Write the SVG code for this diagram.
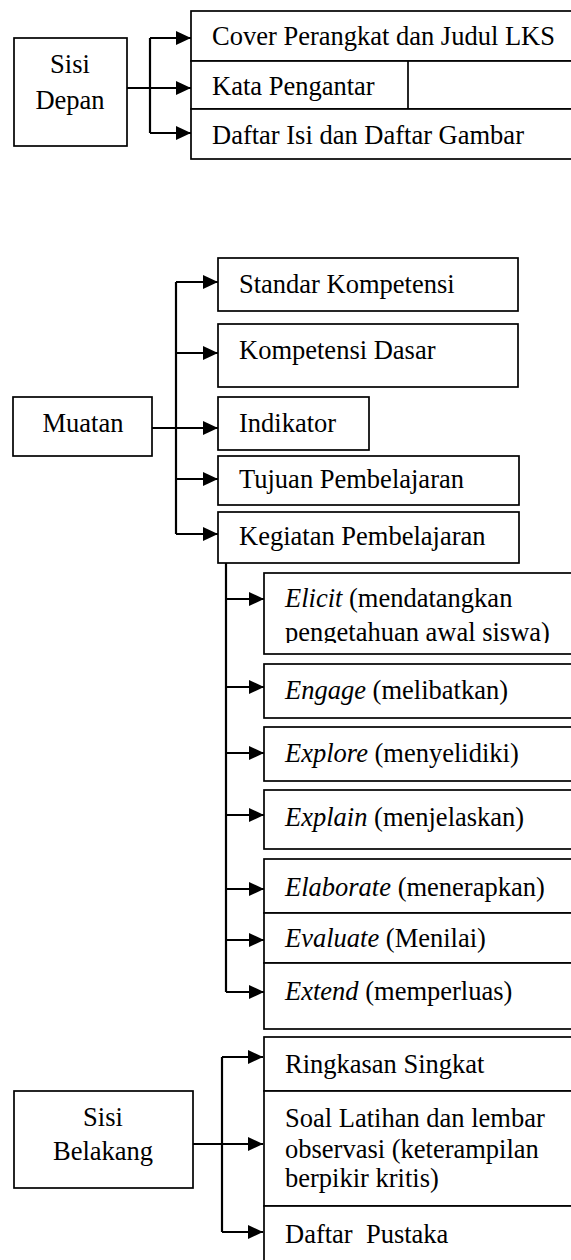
<svg xmlns="http://www.w3.org/2000/svg" width="571" height="1260" viewBox="0 0 571 1260">
<style>
.box{fill:#fff;stroke:#000;stroke-width:1.7}
.ln{fill:none;stroke:#000;stroke-width:1.7}
.c{fill:none;stroke:#000;stroke-width:2.2}
text{font-family:"Liberation Serif","Times New Roman",serif;font-size:26.5px;fill:#000;white-space:pre}
.m{text-anchor:middle}
.i{font-style:italic}
</style>
<defs>
<marker id="ah" viewBox="0 0 15 14" refX="15" refY="7" markerWidth="15" markerHeight="14" markerUnits="userSpaceOnUse" orient="auto">
<path d="M0,0 L15,7 L0,14 z" fill="#000"/>
</marker>
<clipPath id="elicitClip"><rect x="264" y="573" width="320" height="70"/></clipPath>
</defs>

<g id="sisi-depan">
<rect class="box" x="14" y="38" width="113" height="108"/>
<text class="m" x="70" y="73">Sisi</text>
<text class="m" x="70" y="109">Depan</text>
</g>
<g id="cover">
<rect class="box" x="191" y="11" width="400" height="50"/>
<text x="212" y="45">Cover Perangkat dan Judul LKS</text>
</g>
<g id="kata-pengantar">
<rect class="box" x="191" y="61" width="400" height="48"/>
<line class="ln" x1="408" y1="61" x2="408" y2="109"/>
<text x="212" y="95">Kata Pengantar</text>
</g>
<g id="daftar-isi">
<rect class="box" x="191" y="109" width="400" height="50"/>
<text x="212" y="144">Daftar Isi dan Daftar Gambar</text>
</g>

<g id="muatan">
<rect class="box" x="13" y="397" width="139" height="59"/>
<text class="m" x="83" y="432">Muatan</text>
</g>
<g id="standar">
<rect class="box" x="218" y="258" width="300" height="53"/>
<text x="239" y="293">Standar Kompetensi</text>
</g>
<g id="kompetensi-dasar">
<rect class="box" x="218" y="324" width="300" height="63"/>
<text x="239" y="359">Kompetensi Dasar</text>
</g>
<g id="indikator">
<rect class="box" x="218" y="397" width="151" height="53"/>
<text x="239" y="432">Indikator</text>
</g>
<g id="tujuan">
<rect class="box" x="218" y="456" width="301" height="49"/>
<text x="239" y="488">Tujuan Pembelajaran</text>
</g>
<g id="kegiatan">
<rect class="box" x="218" y="512" width="301" height="51"/>
<text x="239" y="545">Kegiatan Pembelajaran</text>
</g>

<g id="elicit">
<rect class="box" x="264" y="573" width="320" height="81"/>
<g clip-path="url(#elicitClip)">
<text x="285" y="607"><tspan class="i">Elicit</tspan> (mendatangkan</text>
<text x="285" y="641">pengetahuan awal siswa)</text>
</g>
</g>
<g id="engage">
<rect class="box" x="264" y="664" width="320" height="54"/>
<text x="285" y="699"><tspan class="i">Engage</tspan> (melibatkan)</text>
</g>
<g id="explore">
<rect class="box" x="264" y="727" width="320" height="54"/>
<text x="285" y="762"><tspan class="i">Explore</tspan> (menyelidiki)</text>
</g>
<g id="explain">
<rect class="box" x="264" y="790" width="320" height="59"/>
<text x="285" y="826"><tspan class="i">Explain</tspan> (menjelaskan)</text>
</g>
<g id="elaborate">
<rect class="box" x="264" y="859" width="320" height="54"/>
<text x="285" y="896"><tspan class="i">Elaborate</tspan> (menerapkan)</text>
</g>
<g id="evaluate">
<rect class="box" x="264" y="913" width="320" height="50"/>
<text x="285" y="947"><tspan class="i">Evaluate</tspan> (Menilai)</text>
</g>
<g id="extend">
<rect class="box" x="264" y="963" width="320" height="66"/>
<text x="285" y="1000"><tspan class="i">Extend</tspan> (memperluas)</text>
</g>

<g id="sisi-belakang">
<rect class="box" x="14" y="1091" width="179" height="97"/>
<text class="m" x="103" y="1126">Sisi</text>
<text class="m" x="103" y="1160">Belakang</text>
</g>
<g id="ringkasan">
<rect class="box" x="264" y="1037" width="320" height="54"/>
<text x="285" y="1073">Ringkasan Singkat</text>
</g>
<g id="soal">
<rect class="box" x="264" y="1091" width="320" height="115"/>
<text x="285" y="1127">Soal Latihan dan lembar</text>
<text x="285" y="1158">observasi (keterampilan</text>
<text x="285" y="1187">berpikir kritis)</text>
</g>
<g id="daftar-pustaka">
<rect class="box" x="264" y="1206" width="320" height="70"/>
<text x="285" y="1243">Daftar  Pustaka</text>
</g>

<g id="connectors">
<path class="c" d="M127,88 H191" marker-end="url(#ah)"/>
<path class="c" d="M150,38 V133"/>
<path class="c" d="M150,38 H191" marker-end="url(#ah)"/>
<path class="c" d="M150,133 H191" marker-end="url(#ah)"/>

<path class="c" d="M152,428 H218" marker-end="url(#ah)"/>
<path class="c" d="M176,282 V534"/>
<path class="c" d="M176,282 H218" marker-end="url(#ah)"/>
<path class="c" d="M176,353 H218" marker-end="url(#ah)"/>
<path class="c" d="M176,479 H218" marker-end="url(#ah)"/>
<path class="c" d="M176,534 H218" marker-end="url(#ah)"/>

<path class="c" d="M226,563 V992"/>
<path class="c" d="M226,599 H264" marker-end="url(#ah)"/>
<path class="c" d="M226,687 H264" marker-end="url(#ah)"/>
<path class="c" d="M226,753 H264" marker-end="url(#ah)"/>
<path class="c" d="M226,815 H264" marker-end="url(#ah)"/>
<path class="c" d="M226,889 H264" marker-end="url(#ah)"/>
<path class="c" d="M226,940 H264" marker-end="url(#ah)"/>
<path class="c" d="M226,992 H264" marker-end="url(#ah)"/>

<path class="c" d="M193,1144 H263" marker-end="url(#ah)"/>
<path class="c" d="M222,1057 V1232"/>
<path class="c" d="M222,1057 H263" marker-end="url(#ah)"/>
<path class="c" d="M222,1232 H263" marker-end="url(#ah)"/>
</g>
</svg>
